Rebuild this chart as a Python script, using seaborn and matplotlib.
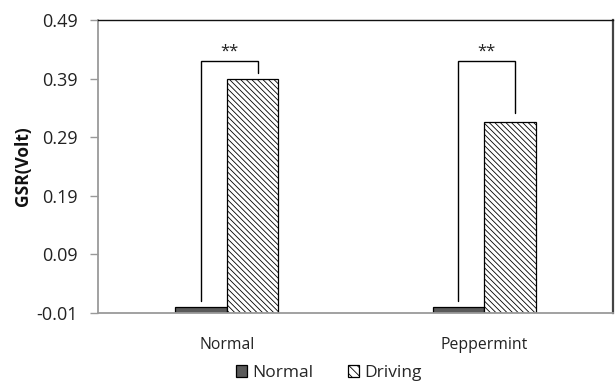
import matplotlib
matplotlib.use("Agg")
import matplotlib.pyplot as plt
import seaborn as sns
import pandas as pd

# Data
conditions = ["Normal", "Peppermint"]
states = ["Normal", "Driving"]
normal_gsr = [0.0, 0.0]
driving_gsr = [0.39, 0.316]
yticks = [-0.01, 0.09, 0.19, 0.29, 0.39, 0.49]
sig_labels = ["**", "**"]

df = pd.DataFrame({
    "condition": conditions * 2,
    "state": [states[0]] * 2 + [states[1]] * 2,
    "gsr": normal_gsr + driving_gsr,
})

sns.set_theme(style="white")
plt.rcParams["font.family"] = ["Open Sans", "DejaVu Sans"]
plt.rcParams["hatch.linewidth"] = 0.6
plt.rcParams["hatch.color"] = "#333333"

fig = plt.figure(figsize=(6.15, 3.83), dpi=100)
ax = fig.add_axes([0.1593, 0.1828, 0.8374, 0.765])

sns.barplot(data=df, x="condition", y="gsr", hue="state",
            hue_order=states, order=conditions,
            palette={"Normal": "#5a5a5a", "Driving": "white"},
            width=0.4, gap=0, edgecolor="black", linewidth=0.9,
            errorbar=None, ax=ax, legend=True)

base = yticks[0]
# bars rise from the horizontal axis, which crosses at the axis minimum
for cont in ax.containers:
    for bar in cont:
        h = bar.get_height()
        bar.set_y(base)
        bar.set_height(h - base)

# hatch the Driving bars
for bar in ax.containers[1]:
    bar.set_hatch("\\" * 6)

ax.set_ylim(yticks[0], yticks[-1])
ax.set_yticks(yticks)
ax.set_yticklabels([f"{t:.2f}" for t in yticks])
ax.set_xlim(-0.5, 1.5)
ax.set_xlabel("")
ax.set_ylabel("GSR(Volt)", fontsize=12.5, fontweight="bold", labelpad=3,
              color="#111111")

ax.tick_params(axis="y", which="major", left=True, length=6, width=1,
               color="#999999", labelsize=13, labelcolor="#222222", pad=8.5)
ax.tick_params(axis="x", bottom=False, labelsize=11.3, labelcolor="#222222", pad=11)

for side in ["left", "bottom"]:
    ax.spines[side].set_color("#9a9a9a")
    ax.spines[side].set_linewidth(1.3)
ax.spines["top"].set_color("#111111")
ax.spines["top"].set_linewidth(1.0)
ax.spines["right"].set_color("#444444")
ax.spines["right"].set_linewidth(1.6)

# significance brackets
top = max(normal_gsr + driving_gsr) + 0.03
for i, (n, d, lab) in enumerate(zip(normal_gsr, driving_gsr, sig_labels)):
    xl, xr = i - 0.1, i + 0.12
    ax.plot([xl, xl, xr, xr], [n + 0.01, top, top, d + 0.01 + (0.005 if i else 0)],
            color="black", linewidth=1.0, solid_joinstyle="miter")
    ax.text((xl + xr) / 2, top + 0.002, lab, ha="center", va="bottom",
            fontsize=12, color="#222222")

leg = ax.legend(loc="center", bbox_to_anchor=(0.535, 0.026),
                bbox_transform=fig.transFigure, ncol=2, frameon=False,
                fontsize=12.5, handlelength=0.63, handleheight=0.63,
                handletextpad=0.3, columnspacing=2.0, borderaxespad=0)
for h in leg.legend_handles:
    h.set_edgecolor("black")
leg.legend_handles[1].set_hatch("\\" * 4)

fig.savefig("out.png", dpi=100)
